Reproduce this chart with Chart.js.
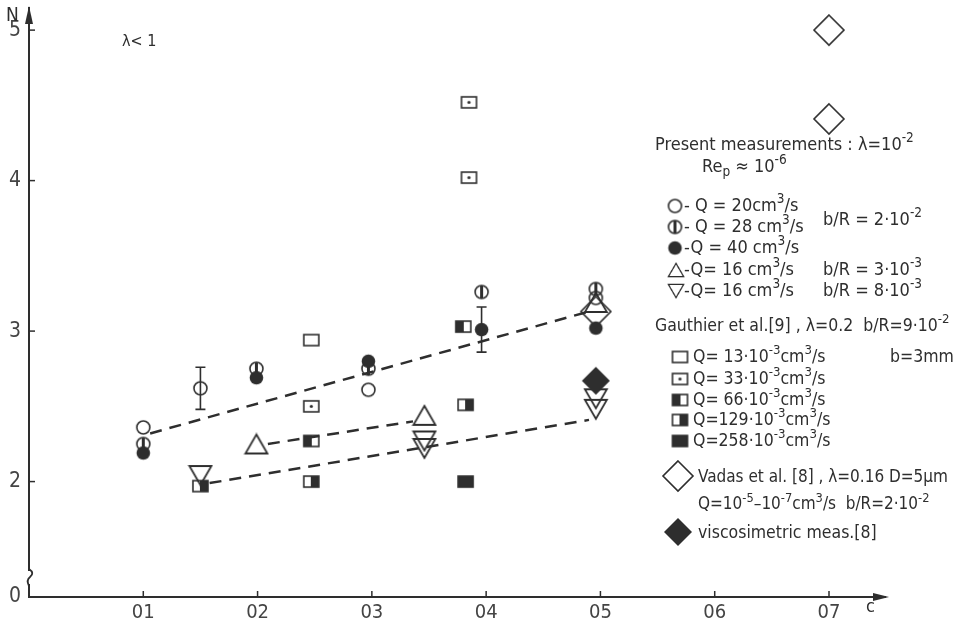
<!DOCTYPE html>
<html lang="en">
<head>
  <meta charset="UTF-8">
  <title>N vs c</title>
  <style>
    html, body { margin: 0; padding: 0; background: #fff; }
    .box { width: 965px; height: 624px; position: relative; }
  </style>
</head>
<body>
  <div class="box">
    <canvas id="grafico"></canvas>
  </div>

  <script src="https://cdn.jsdelivr.net/npm/chart.js"></script>
  <script>
    // ---- data ----
    const xTicks = [0.1, 0.2, 0.3, 0.4, 0.5, 0.6, 0.7];
    const yTicks = [2, 3, 4, 5];

    // present measurements
    const cQ20 = [0.1, 0.15, 0.297, 0.496];
    const nQ20 = [2.36, 2.62, 2.61, 3.22];
    const errQ20 = [0, 0.14, 0, 0];
    const cQ28 = [0.1, 0.199, 0.297, 0.396, 0.496];
    const nQ28 = [2.25, 2.75, 2.75, 3.26, 3.28];
    const cQ40 = [0.1, 0.199, 0.297, 0.396, 0.496];
    const nQ40 = [2.19, 2.69, 2.80, 3.01, 3.02];
    const errQ40 = [0, 0, 0, 0.15, 0];
    const cTriUp = [0.199, 0.346, 0.496];
    const nTriUp = [2.25, 2.44, 3.19];
    const cTriDown = [0.15, 0.346, 0.346, 0.496, 0.496];
    const nTriDown = [2.04, 2.27, 2.22, 2.55, 2.48];

    // Gauthier et al.
    const cR13 = [0.247];
    const nR13 = [2.94];
    const cR33 = [0.247, 0.385, 0.385];
    const nR33 = [2.50, 4.52, 4.02];
    const cR66 = [0.247, 0.38];
    const nR66 = [2.27, 3.03];
    const cR129 = [0.15, 0.247, 0.382];
    const nR129 = [1.97, 2.00, 2.51];
    const cR258 = [0.382];
    const nR258 = [2.00];

    // Vadas et al.
    const cVadas = [0.7, 0.7, 0.496];
    const nVadas = [5.0, 4.41, 3.13];
    const cVisco = [0.496];
    const nVisco = [2.67];

    // dashed trend lines
    const cLineA = [0.106, 0.49];
    const nLineA = [2.32, 3.13];
    const cLineB = [0.209, 0.336];
    const nLineB = [2.25, 2.40];
    const cLineC = [0.158, 0.49];
    const nLineC = [1.99, 2.41];

    const INK = '#2e2e2e';
    const FONT = '"DejaVu Sans Condensed", "Liberation Sans Narrow", sans-serif';

    function pts(xs, ys) { return xs.map((x, i) => ({ x: x, y: ys[i] })); }

    // marker images
    function mk(w, h, draw) {
      const c = document.createElement('canvas');
      c.width = w; c.height = h;
      const g = c.getContext('2d');
      g.strokeStyle = INK; g.fillStyle = INK; g.lineWidth = 1.6;
      draw(g, w, h);
      return c;
    }
    const mOpen = mk(17, 17, g => { g.beginPath(); g.arc(8.5, 8.5, 6.5, 0, Math.PI * 2); g.stroke(); });
    const mHalf = mk(17, 17, g => {
      g.beginPath(); g.arc(8.5, 8.5, 6.5, 0, Math.PI * 2); g.stroke();
      g.fillRect(7, 2, 3, 13);
    });
    const mFull = mk(17, 17, g => { g.beginPath(); g.arc(8.5, 8.5, 6.8, 0, Math.PI * 2); g.fill(); });
    const mTriUp = mk(26, 23, g => {
      g.lineWidth = 1.8; g.beginPath(); g.moveTo(13, 2); g.lineTo(24, 21); g.lineTo(2, 21); g.closePath(); g.stroke();
    });
    const mTriDown = mk(26, 23, g => {
      g.lineWidth = 1.8; g.beginPath(); g.moveTo(2, 2); g.lineTo(24, 2); g.lineTo(13, 21); g.closePath(); g.stroke();
    });
    function rectMarker(kind) {
      return mk(19, 15, g => {
        g.lineWidth = 1.6;
        if (kind === 'left') g.fillRect(2, 2, 8, 11);
        if (kind === 'right') g.fillRect(9, 2, 8, 11);
        if (kind === 'full') g.fillRect(2, 2, 15, 11);
        if (kind === 'dot') { g.beginPath(); g.arc(9.5, 7.5, 1.6, 0, Math.PI * 2); g.fill(); }
        g.strokeRect(2, 2, 15, 11);
      });
    }
    const mR13 = rectMarker('open');
    const mR33 = rectMarker('dot');
    const mR66 = rectMarker('left');
    const mR129 = rectMarker('right');
    const mR258 = rectMarker('full');
    const mDiaOpen = mk(34, 34, g => {
      g.beginPath(); g.moveTo(17, 2); g.lineTo(32, 17); g.lineTo(17, 32); g.lineTo(2, 17); g.closePath(); g.stroke();
    });
    const mDiaFull = mk(30, 30, g => {
      g.beginPath(); g.moveTo(15, 1); g.lineTo(29, 15); g.lineTo(15, 29); g.lineTo(1, 15); g.closePath(); g.fill();
    });

    function markers(xs, ys, img) {
      return { data: pts(xs, ys), pointStyle: img, pointRadius: 5, showLine: false };
    }
    function dashed(xs, ys) {
      return {
        data: pts(xs, ys), showLine: true, pointRadius: 0, borderColor: INK,
        borderWidth: 2.5, borderDash: [12, 8], fill: false
      };
    }

    // rich text with ^{sup} and _{sub}
    function rich(ctx, x, y, str, size) {
      const parts = str.split(/(\^\{[^}]*\}|_\{[^}]*\})/);
      ctx.textBaseline = 'middle';
      ctx.textAlign = 'left';
      parts.forEach(p => {
        if (!p) return;
        let s = size, dy = 0, t = p;
        if (p.startsWith('^{')) { t = p.slice(2, -1); s = size * 0.75; dy = -size * 0.38; }
        else if (p.startsWith('_{')) { t = p.slice(2, -1); s = size * 0.75; dy = size * 0.28; }
        ctx.font = s + 'px ' + FONT;
        ctx.fillText(t, x, y + dy);
        x += ctx.measureText(t).width;
      });
    }
    function sym(ctx, img, x, y, s) {
      ctx.drawImage(img, x - img.width * s / 2, y - img.height * s / 2, img.width * s, img.height * s);
    }

    const legendRows = [
      [655, 145, 'Present measurements : λ=10^{-2}', 18],
      [702, 167, 'Re_{p} ≈ 10^{-6}', 18],
      [684, 206, '- Q = 20cm^{3}/s', 18],
      [684, 227, '- Q = 28 cm^{3}/s', 18],
      [684, 248, '-Q = 40 cm^{3}/s', 18],
      [684, 270, '-Q= 16 cm^{3}/s', 18],
      [684, 291, '-Q= 16 cm^{3}/s', 18],
      [823, 220, 'b/R = 2·10^{-2}', 18],
      [823, 270, 'b/R = 3·10^{-3}', 18],
      [823, 291, 'b/R = 8·10^{-3}', 18],
      [655, 326, 'Gauthier et al.[9] , λ=0.2  b/R=9·10^{-2}', 17.5],
      [693, 357, 'Q= 13·10^{-3}cm^{3}/s', 17.5],
      [890, 357, 'b=3mm', 17.5],
      [693, 379, 'Q= 33·10^{-3}cm^{3}/s', 17.5],
      [693, 400, 'Q= 66·10^{-3}cm^{3}/s', 17.5],
      [693, 420, 'Q=129·10^{-3}cm^{3}/s', 17.5],
      [693, 441, 'Q=258·10^{-3}cm^{3}/s', 17.5],
      [698, 478, 'Vadas et al. [8] , λ=0.16 D=5µm', 17],
      [698, 505, 'Q=10^{-5}–10^{-7}cm^{3}/s  b/R=2·10^{-2}', 17],
      [698, 533, 'viscosimetric meas.[8]', 17.5]
    ];
    const legendSyms = [
      [mOpen, 675, 206, 1], [mHalf, 675, 227, 1], [mFull, 675, 248, 1],
      [mTriUp, 676, 270, 0.7], [mTriDown, 676, 291, 0.7],
      [mR13, 680, 357, 1], [mR33, 680, 379, 1], [mR66, 680, 400, 1],
      [mR129, 680, 420, 1], [mR258, 680, 441, 1],
      [mDiaOpen, 678, 476, 1], [mDiaFull, 678, 532, 1]
    ];

    const errorBars = {
      id: 'errorBars',
      afterDatasetsDraw(chart) {
        const ctx = chart.ctx, xs = chart.scales.x, ys = chart.scales.y;
        ctx.save();
        ctx.strokeStyle = INK; ctx.lineWidth = 1.6;
        [[cQ20, nQ20, errQ20], [cQ40, nQ40, errQ40]].forEach(([cx, ny, err]) => {
          cx.forEach((c, i) => {
            if (!err[i]) return;
            const px = xs.getPixelForValue(c);
            const top = ys.getPixelForValue(ny[i] + err[i]);
            const bot = ys.getPixelForValue(ny[i] - err[i]);
            ctx.beginPath();
            ctx.moveTo(px, top); ctx.lineTo(px, bot);
            ctx.moveTo(px - 5, top); ctx.lineTo(px + 5, top);
            ctx.moveTo(px - 5, bot); ctx.lineTo(px + 5, bot);
            ctx.stroke();
          });
        });
        ctx.restore();
      }
    };

    const decor = {
      id: 'decor',
      afterDraw(chart) {
        const ctx = chart.ctx, a = chart.chartArea, xs = chart.scales.x, ys = chart.scales.y;
        ctx.save();
        ctx.strokeStyle = INK; ctx.fillStyle = INK; ctx.lineWidth = 1.5;
        // tick marks inside
        xTicks.forEach(v => {
          const px = xs.getPixelForValue(v);
          ctx.beginPath(); ctx.moveTo(px, a.bottom); ctx.lineTo(px, a.bottom - 6); ctx.stroke();
        });
        yTicks.forEach(v => {
          const py = ys.getPixelForValue(v);
          ctx.beginPath(); ctx.moveTo(a.left, py); ctx.lineTo(a.left + 6, py); ctx.stroke();
        });
        // arrows
        ctx.beginPath();
        ctx.moveTo(a.left, a.top - 2); ctx.lineTo(a.left - 4, a.top + 16); ctx.lineTo(a.left + 4, a.top + 16);
        ctx.closePath(); ctx.fill();
        ctx.beginPath();
        ctx.moveTo(a.right + 4, a.bottom); ctx.lineTo(a.right - 12, a.bottom - 4); ctx.lineTo(a.right - 12, a.bottom + 4);
        ctx.closePath(); ctx.fill();
        // axis break
        ctx.fillStyle = '#fff';
        ctx.fillRect(a.left - 3, 571, 6, 13);
        ctx.lineWidth = 1.8;
        ctx.beginPath();
        ctx.moveTo(a.left, 569);
        ctx.quadraticCurveTo(a.left + 6, 573, a.left + 1, 577);
        ctx.quadraticCurveTo(a.left - 3, 580, a.left, 586);
        ctx.stroke();
        // axis names and note
        ctx.fillStyle = INK;
        rich(ctx, 6, 16, 'N', 19);
        rich(ctx, 866, 607, 'c', 18);
        rich(ctx, 122, 42, 'λ< 1', 16);
        // legend
        legendSyms.forEach(([img, x, y, s]) => sym(ctx, img, x, y, s));
        legendRows.forEach(([x, y, t, s]) => rich(ctx, x, y, t, s));
        ctx.restore();
      }
    };

    const ctx = document.getElementById('grafico');

    const grafico = new Chart(ctx, {
      type: 'scatter',
      data: {
        datasets: [
          dashed(cLineA, nLineA),
          dashed(cLineB, nLineB),
          dashed(cLineC, nLineC),
          markers(cR13, nR13, mR13),
          markers(cR33, nR33, mR33),
          markers(cR66, nR66, mR66),
          markers(cR129, nR129, mR129),
          markers(cR258, nR258, mR258),
          markers(cVisco, nVisco, mDiaFull),
          markers(cTriDown, nTriDown, mTriDown),
          markers(cTriUp, nTriUp, mTriUp),
          markers(cVadas, nVadas, mDiaOpen),
          markers(cQ40, nQ40, mFull),
          markers(cQ20, nQ20, mOpen),
          markers(cQ28, nQ28, mHalf)
        ]
      },
      options: {
        responsive: true,
        maintainAspectRatio: false,
        animation: false,
        layout: { padding: { top: 8, right: 80, left: 0, bottom: 0 } },
        plugins: { legend: { display: false }, tooltip: { enabled: false } },
        scales: {
          x: {
            type: 'linear', min: 0, max: 0.749,
            grid: { display: false, drawTicks: false },
            border: { display: true, color: INK, width: 2 },
            afterBuildTicks: axis => { axis.ticks = xTicks.map(v => ({ value: v })); },
            afterFit: axis => { axis.height = 27; axis.paddingLeft = 0; axis.paddingRight = 0; },
            ticks: {
              color: '#444', padding: 4, maxRotation: 0, autoSkip: false,
              font: { family: FONT, size: 20 },
              callback: v => '0' + Math.round(v * 10)
            }
          },
          y: {
            type: 'linear', min: 1.233, max: 5.147,
            grid: { display: false, drawTicks: false },
            border: { display: true, color: INK, width: 2 },
            afterBuildTicks: axis => { axis.ticks = [1.233].concat(yTicks).map(v => ({ value: v })); },
            afterFit: axis => { axis.width = 29; axis.paddingTop = 0; axis.paddingBottom = 0; },
            ticks: {
              color: '#444', padding: 8, autoSkip: false,
              font: { family: FONT, size: 21 },
              callback: v => (v < 1.5 ? '0' : String(v))
            }
          }
        }
      },
      plugins: [errorBars, decor]
    });
  </script>
</body>
</html>
